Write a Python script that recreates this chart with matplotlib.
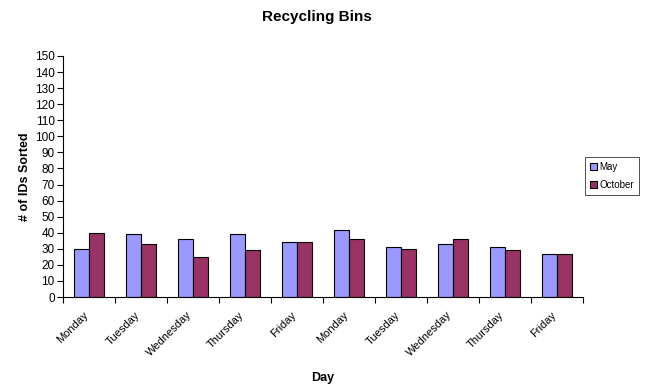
import matplotlib
matplotlib.use("Agg")
import matplotlib.pyplot as plt
import matplotlib.transforms as mtransforms
import numpy as np

plt.rcParams['font.family'] = ['Liberation Sans', 'DejaVu Sans']

days = ["Monday", "Tuesday", "Wednesday", "Thursday", "Friday",
        "Monday", "Tuesday", "Wednesday", "Thursday", "Friday"]
may = [30, 39, 36, 39, 34, 42, 31, 33, 31, 27]
october = [40, 33, 25, 29, 34, 36, 30, 36, 29, 27]

fig = plt.figure(figsize=(6.45, 3.85), dpi=100)
ax = fig.add_axes([63/645, 1 - 297/385, 520/645, 241/385])

x = np.arange(len(days))
w = 0.29
ax.bar(x - w/2, may, w, color="#9999FF", edgecolor="black", linewidth=0.8, label="May")
ax.bar(x + w/2, october, w, color="#993366", edgecolor="black", linewidth=0.8, label="October")

ax.set_xlim(-0.5, len(days) - 0.5)
ax.set_ylim(0, 150)
ax.set_yticks(np.arange(0, 151, 10))
ax.tick_params(axis='y', labelsize=8.5, length=4, width=0.8, pad=2)

# category labels centred, tick marks at the boundaries
ax.set_xticks(x)
ax.set_xticklabels(days, rotation=45, ha='right', rotation_mode='anchor', fontsize=8)
ax.tick_params(axis='x', length=0, pad=9)
shift = mtransforms.ScaledTranslation(-6/100, 0, fig.dpi_scale_trans)
for lbl in ax.get_xticklabels():
    lbl.set_transform(lbl.get_transform() + shift)
ax.set_xticks(np.arange(-0.5, len(days)), minor=True)
ax.tick_params(axis='x', which='minor', length=4, width=0.8)

for s in ['top', 'right']:
    ax.spines[s].set_visible(False)
for s in ['left', 'bottom']:
    ax.spines[s].set_linewidth(0.8)

ax.set_ylabel("# of IDs Sorted", fontsize=9, fontweight='bold', labelpad=3)
ax.set_xlabel("Day", fontsize=9, fontweight='bold', labelpad=10)
fig.text(317/645, 1 - 17/385, "Recycling Bins", ha='center', va='center',
         fontsize=11, fontweight='bold')

leg = fig.legend(loc='upper left', bbox_to_anchor=(585/645, 1 - 157/385),
                 fontsize=7, frameon=True, fancybox=False, edgecolor='black',
                 handlelength=0.7, handleheight=0.7, handletextpad=0.3,
                 borderpad=0.5, labelspacing=0.8, borderaxespad=0)
leg.get_frame().set_linewidth(0.6)

fig.savefig("out.png", dpi=100)
